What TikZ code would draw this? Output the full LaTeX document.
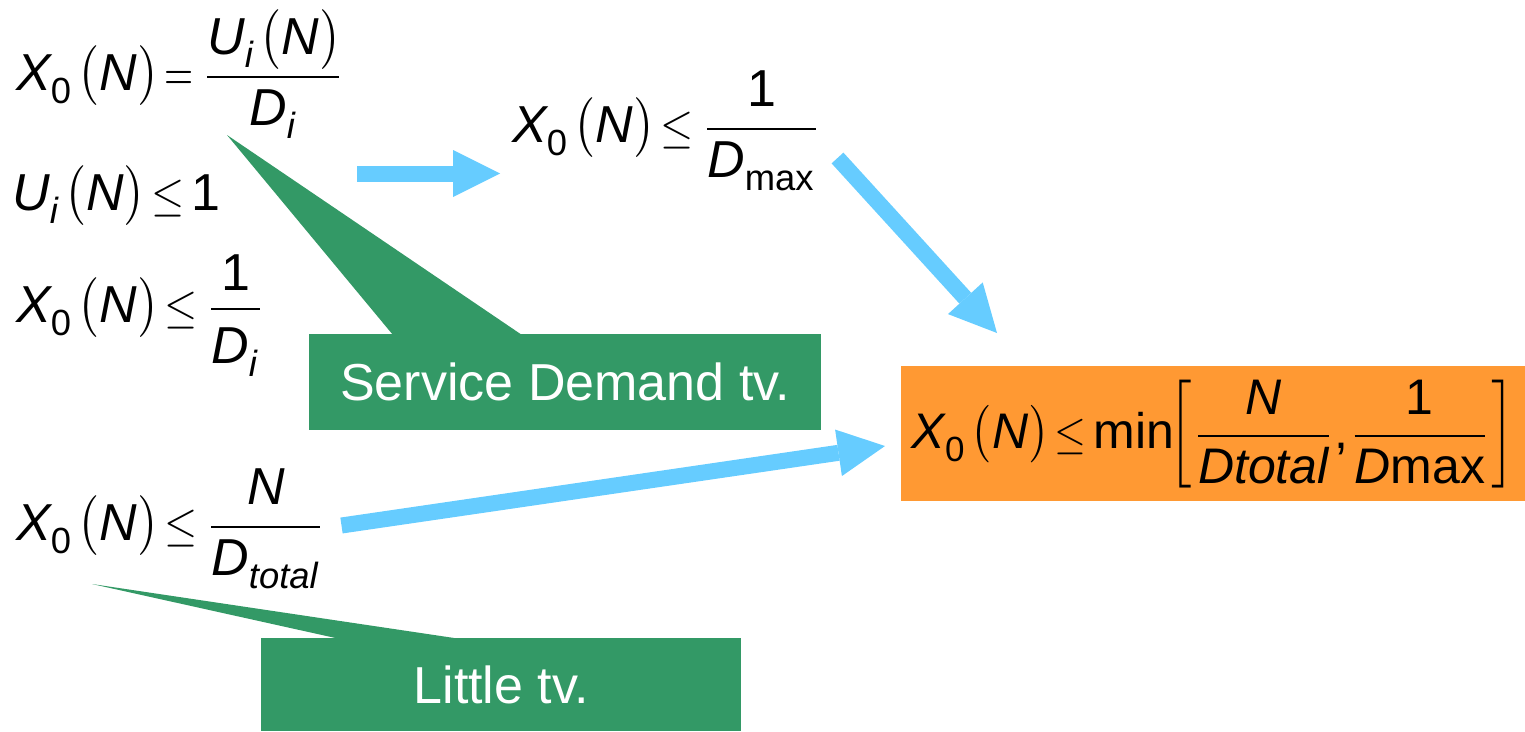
\documentclass[tikz,border=0pt]{standalone}
\usepackage{fontspec}
\usepackage{amsmath}
\usepackage{graphicx}
\usetikzlibrary{arrows.meta}
\newfontfamily\arial{Liberation Sans}
\definecolor{arrowblue}{HTML}{66CCFF}
\definecolor{callgreen}{HTML}{339966}
\definecolor{boxorange}{HTML}{FF9933}
\newcommand\vi[1]{\text{\arial\itshape #1}}
\newcommand\vu[1]{\text{\arial\upshape #1}}
\newcommand\si[1]{\text{\raisebox{-1pt}{\arial\itshape #1}}}
\newcommand\su[1]{\text{\raisebox{-1pt}{\arial\upshape #1}}}
\newcommand\lpar{\mathopen{\text{\rmfamily\upshape\scalebox{1}[1.15]{(}}}}
\newcommand\rpar{\mathclose{\text{\rmfamily\upshape\scalebox{1}[1.15]{)}}}}
\newcommand\lee{\mathrel{\scalebox{0.82}[0.92]{$\leq$}}}
\newcommand\eqq{\mathrel{\scalebox{0.72}[1]{$=$}}}
\newcommand\lbrk{\mathopen{\scalebox{1}[1.2]{$\Big[$}}}
\newcommand\rbrk{\mathclose{\scalebox{1}[1.2]{$\Big]$}}}
\newcommand\dn[2]{\text{\raisebox{-#1}{$\displaystyle #2$}}}
\newcommand\up[2]{\text{\raisebox{-#1}[0pt][0pt]{$\displaystyle #2$}}\vphantom{#2}}
\newcommand\XN{\vi{X}_{\su{0}}\mkern2mu\lpar\vi{N}\rpar}
\newcommand\Fm[2][5.2]{\scalebox{#1}{\arial\fontsize{10}{12}\selectfont\thickmuskip=2.5mu$\displaystyle #2$}}
\tikzset{
  formula/.style={anchor=base west, inner sep=0pt},
  callout/.style={fill=callgreen, draw=none, anchor=north west, inner sep=0pt,
    text=white, font=\arial\fontsize{52}{62}\selectfont},
  calloutpointer/.style={fill=callgreen, draw=none},
  bigarrow/.style={draw=arrowblue, line width=16pt,
    -{Triangle[length=47pt,width=47pt,line width=0pt]}},
  resultbox/.style={fill=boxorange, draw=none, anchor=north west, inner sep=0pt,
    minimum width=624pt, minimum height=135pt}
}
\begin{document}
\begin{tikzpicture}[x=1pt,y=-1pt]
\useasboundingbox (0,0) rectangle (1525,731);

% callouts
\node[callout, minimum width=512pt, minimum height=96pt] (sd) at (309,334) {Service Demand tv.};
\node[callout, minimum width=480pt, minimum height=93pt] (lt) at (261,638) {Little tv.};
\coordinate (sdtip) at (227,135);
\coordinate (lttip) at (92,584);
\fill[calloutpointer] (sdtip) -- ([xshift=84pt,yshift=-1pt]sd.north west) -- ([xshift=213pt,yshift=-1pt]sd.north west) -- cycle;
\fill[calloutpointer] (lttip) -- ([xshift=79pt,yshift=-1pt]lt.north west) -- ([xshift=200pt,yshift=-1pt]lt.north west) -- cycle;

% formulas
\node[formula] (f1) at (16,90) {\Fm{\XN\eqq\frac{\vi{U}_{\si{i}}\mkern2mu\lpar\vi{N}\rpar}{\vi{D}_{\si{i}}}}};
\node[formula] (f2) at (12,210) {\Fm{\vi{U}_{\si{i}}\mkern2mu\lpar\vi{N}\rpar\lee\vu{1}}};
\node[formula] (f3) at (16,322) {\Fm{\XN\lee\frac{\up{0.8pt}{\vu{1}}}{\dn{1.2pt}{\vi{D}_{\si{i}}}}}};
\node[formula] (f4) at (512,142) {\Fm{\XN\lee\frac{\vu{1}}{\vi{D}_{\su{max}}}}};
\node[formula] (f5) at (16,540) {\Fm{\XN\lee\frac{\vi{N}}{\vi{D}_{\si{total}}}}};
\node[resultbox] (res) at (901,366) {\Fm[5.0]{\XN\lee\vu{min}\mkern-2mu\lbrk{\frac{\vi{N}}{\vi{Dtotal}}}\vu{,}{\frac{\vu{1}}{\vi{D}\vu{max}}}\rbrk}};

% arrows
\coordinate (a1s) at (357,173.5);
\coordinate (a1e) at (500,173.5);
\coordinate (a2s) at (837.5,158);
\coordinate (a2e) at (997,333);
\coordinate (a3s) at (341.5,525.5);
\coordinate (a3e) at (885,446);
\draw[bigarrow] (a1s) -- (a1e);
\draw[bigarrow] (a2s) -- (a2e);
\draw[bigarrow] (a3s) -- (a3e);
\end{tikzpicture}
\end{document}
